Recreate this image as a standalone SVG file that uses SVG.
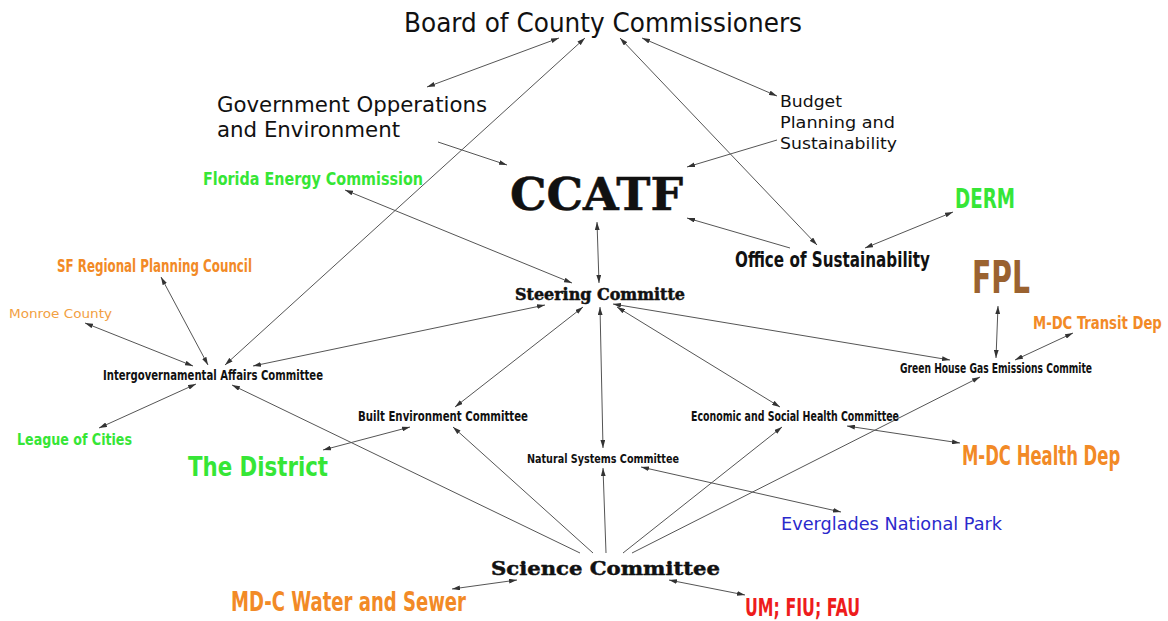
<svg xmlns="http://www.w3.org/2000/svg" width="1168" height="621" viewBox="0 0 1168 621">
  <defs>
    <marker id="ah" viewBox="0 0 10 6" refX="10" refY="3" markerWidth="8" markerHeight="5" markerUnits="userSpaceOnUse" orient="auto-start-reverse">
      <path d="M0,0 L10,3 L0,6 z" fill="#333"/>
    </marker>
    <style>
      .lc { font-family: "DejaVu Sans", "Liberation Sans", sans-serif; }
      .hw { font-family: "DejaVu Sans Condensed", "Liberation Sans Narrow", "Liberation Sans", sans-serif; font-weight: bold; }
      .sl { font-family: "DejaVu Serif", "Liberation Serif", serif; font-weight: bold; stroke: #111; stroke-width: 0.5; }
      .blk { fill: #111; }
      .grn { fill: #36e636; }
      .org { fill: #f28a26; }
      .edge { stroke: #555; stroke-width: 1; fill: none; }
      .both { marker-start: url(#ah); marker-end: url(#ah); }
      .one { marker-end: url(#ah); }
    </style>
  </defs>
  <rect width="1168" height="621" fill="#fff"/>

  <g id="connectors">
    <line class="edge both" x1="427" y1="87" x2="559" y2="38"/>
    <line class="edge both" x1="225" y1="365" x2="585" y2="38"/>
    <line class="edge both" x1="817" y1="245" x2="620" y2="38"/>
    <line class="edge both" x1="777" y1="96" x2="642" y2="38"/>
    <line class="edge one" x1="438" y1="142" x2="507" y2="165"/>
    <line class="edge one" x1="777" y1="140" x2="687" y2="167"/>
    <line class="edge one" x1="790" y1="248" x2="687" y2="218"/>
    <line class="edge both" x1="865" y1="248" x2="953" y2="212"/>
    <line class="edge both" x1="597" y1="222" x2="599" y2="283"/>
    <line class="edge both" x1="345" y1="190" x2="572" y2="283"/>
    <line class="edge both" x1="161" y1="277" x2="208" y2="365"/>
    <line class="edge both" x1="85" y1="323" x2="193" y2="366"/>
    <line class="edge both" x1="99" y1="428" x2="196" y2="384"/>
    <line class="edge both" x1="253" y1="366" x2="545" y2="305"/>
    <line class="edge both" x1="583" y1="307" x2="455" y2="407"/>
    <line class="edge both" x1="600" y1="307" x2="603" y2="448"/>
    <line class="edge both" x1="617" y1="307" x2="780" y2="407"/>
    <line class="edge both" x1="613" y1="304" x2="950" y2="360"/>
    <line class="edge both" x1="998" y1="306" x2="996" y2="358"/>
    <line class="edge both" x1="1073" y1="333" x2="1015" y2="360"/>
    <line class="edge both" x1="323" y1="450" x2="410" y2="427"/>
    <line class="edge one" x1="580" y1="553" x2="232" y2="385"/>
    <line class="edge one" x1="593" y1="553" x2="453" y2="427"/>
    <line class="edge one" x1="606" y1="553" x2="603" y2="468"/>
    <line class="edge one" x1="623" y1="553" x2="782" y2="427"/>
    <line class="edge one" x1="632" y1="553" x2="980" y2="377"/>
    <line class="edge both" x1="641" y1="467" x2="841" y2="512"/>
    <line class="edge both" x1="847" y1="426" x2="960" y2="443"/>
    <line class="edge both" x1="452" y1="589" x2="517" y2="580"/>
    <line class="edge both" x1="669" y1="580" x2="745" y2="595"/>
  </g>

  <g id="board">
    <text class="lc blk" x="404" y="32" font-size="26" textLength="398" lengthAdjust="spacingAndGlyphs">Board of County Commissioners</text>
  </g>
  <g id="gov-operations">
    <text class="lc blk" x="217" y="112" font-size="22" textLength="270" lengthAdjust="spacingAndGlyphs">Government Opperations</text>
    <text class="lc blk" x="217" y="137" font-size="22" textLength="183" lengthAdjust="spacingAndGlyphs">and Environment</text>
  </g>
  <g id="budget">
    <text class="lc blk" x="780" y="107" font-size="16.5" textLength="62" lengthAdjust="spacingAndGlyphs">Budget</text>
    <text class="lc blk" x="780" y="128" font-size="16.5" textLength="115" lengthAdjust="spacingAndGlyphs">Planning and</text>
    <text class="lc blk" x="780" y="149" font-size="16.5" textLength="117" lengthAdjust="spacingAndGlyphs">Sustainability</text>
  </g>
  <g id="florida-energy">
    <text class="hw grn" x="203" y="185" font-size="18" textLength="220" lengthAdjust="spacingAndGlyphs">Florida Energy Commission</text>
  </g>
  <g id="ccatf">
    <text class="sl blk" x="510" y="210" font-size="44" stroke-width="2" textLength="173" lengthAdjust="spacingAndGlyphs">CCATF</text>
  </g>
  <g id="derm">
    <text class="hw grn" x="955" y="208" font-size="27" textLength="60" lengthAdjust="spacingAndGlyphs">DERM</text>
  </g>
  <g id="office-sustainability">
    <text class="hw blk" x="735" y="267" font-size="20.5" textLength="195" lengthAdjust="spacingAndGlyphs">Office of Sustainability</text>
  </g>
  <g id="fpl">
    <text class="hw" x="972" y="293" font-size="45" fill="#9a6230" textLength="58" lengthAdjust="spacingAndGlyphs">FPL</text>
  </g>
  <g id="steering">
    <text class="sl blk" x="515" y="300" font-size="16" textLength="170" lengthAdjust="spacingAndGlyphs">Steering Committe</text>
  </g>
  <g id="sf-regional">
    <text class="hw org" x="57" y="272" font-size="18.5" textLength="195" lengthAdjust="spacingAndGlyphs">SF Regional Planning Council</text>
  </g>
  <g id="monroe">
    <text class="lc" x="9" y="318" font-size="12.5" fill="#f2a042" textLength="103" lengthAdjust="spacingAndGlyphs">Monroe County</text>
  </g>
  <g id="transit">
    <text class="hw org" transform="translate(1033 329) scale(0.8 1)" font-size="18.5" textLength="161" lengthAdjust="spacingAndGlyphs">M-DC Transit Dep</text>
  </g>
  <g id="intergovernmental">
    <text class="hw blk" x="103" y="380" font-size="13.5" textLength="220" lengthAdjust="spacingAndGlyphs">Intergovernamental Affairs Committee</text>
  </g>
  <g id="greenhouse">
    <text class="hw blk" x="900" y="373" font-size="13.5" textLength="192" lengthAdjust="spacingAndGlyphs">Green House Gas Emissions Commite</text>
  </g>
  <g id="built-environment">
    <text class="hw blk" x="358" y="421" font-size="13.5" textLength="170" lengthAdjust="spacingAndGlyphs">Built Environment Committee</text>
  </g>
  <g id="economic-social">
    <text class="hw blk" x="691" y="421" font-size="13.5" textLength="208" lengthAdjust="spacingAndGlyphs">Economic and Social Health Committee</text>
  </g>
  <g id="league">
    <text class="hw grn" x="17" y="445" font-size="16.5" textLength="115" lengthAdjust="spacingAndGlyphs">League of Cities</text>
  </g>
  <g id="district">
    <text class="hw grn" x="188" y="476" font-size="27" textLength="140" lengthAdjust="spacingAndGlyphs">The District</text>
  </g>
  <g id="natural-systems">
    <text class="hw blk" x="527" y="463" font-size="13" textLength="152" lengthAdjust="spacingAndGlyphs">Natural Systems Committee</text>
  </g>
  <g id="health">
    <text class="hw org" transform="translate(962 465) scale(0.7 1)" font-size="27" textLength="226" lengthAdjust="spacingAndGlyphs">M-DC Health Dep</text>
  </g>
  <g id="everglades">
    <text class="lc" x="781" y="530" font-size="17.5" fill="#2a2acc" textLength="221" lengthAdjust="spacingAndGlyphs">Everglades National Park</text>
  </g>
  <g id="science">
    <text class="sl blk" x="491" y="575" font-size="19" textLength="229" lengthAdjust="spacingAndGlyphs">Science Committee</text>
  </g>
  <g id="water-sewer">
    <text class="hw org" x="231" y="611" font-size="26" textLength="235" lengthAdjust="spacingAndGlyphs">MD-C Water and Sewer</text>
  </g>
  <g id="universities">
    <text class="hw" x="745" y="616" font-size="24" fill="#ee1c1c" textLength="115" lengthAdjust="spacingAndGlyphs">UM; FIU; FAU</text>
  </g>
</svg>
